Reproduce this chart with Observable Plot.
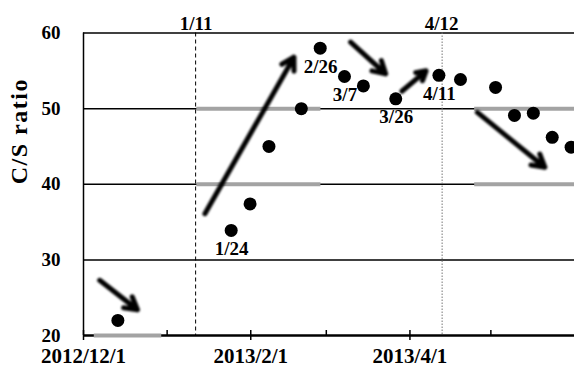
<!DOCTYPE html>
<html><head><meta charset="utf-8">
<script src="https://cdn.jsdelivr.net/npm/d3@7"></script>
<script src="https://cdn.jsdelivr.net/npm/@observablehq/plot@0.6"></script>
<style>html,body{margin:0;padding:0;background:#fff}#chart svg{display:block}</style>
</head><body><div id="chart"></div>
<script>
// ---- data ----
const pointDates = ["2012-12-13","2013-01-24","2013-01-31","2013-02-07","2013-02-19","2013-02-26","2013-03-07","2013-03-14","2013-03-26","2013-04-11","2013-04-19","2013-05-02","2013-05-09","2013-05-16","2013-05-23","2013-05-30"];
const pointValues = [22.0, 33.9, 37.4, 45.0, 50.0, 58.0, 54.25, 53.0, 51.3, 54.4, 53.85, 52.8, 49.1, 49.4, 46.2, 44.9];

const labelDates = ["2013-01-24","2013-02-26","2013-03-07","2013-03-26","2013-04-11"];
const labelValues = [33.9, 58.0, 54.25, 51.3, 54.4];
const labelTexts = ["1/24","2/26","3/7","3/26","4/11"];

const eventDates = ["2013-01-11","2013-04-12"];
const eventTexts = ["1/11","4/12"];

const majorTicks = ["2012-12-01","2013-02-01","2013-04-01"];
const majorTickLabels = ["2012/12/1","2013/2/1","2013/4/1"];
const minorTicks = ["2013-01-01","2013-03-01","2013-05-01"];
const xDomain = ["2012-12-01","2013-06-01"];

const yTicks = [20, 30, 40, 50, 60];
const gridValues = [30, 40, 50, 60];
const yTitle = "C/S ratio";

// grey range segments
const bandFrom  = ["2012-12-05","2013-01-12","2013-01-12","2013-04-25","2013-04-25"];
const bandTo    = ["2012-12-30","2013-02-27","2013-02-27","2013-06-01","2013-06-01"];
const bandValue = [20, 40, 50, 40, 50];

// trend arrows
const arrowFromDate = ["2012-12-07","2013-01-15","2013-03-10","2013-03-29","2013-04-26"];
const arrowFromValue = [27.3, 36.1, 58.8, 52.3, 49.5];
const arrowToDate = ["2012-12-21","2013-02-17","2013-03-23","2013-04-07","2013-05-21"];
const arrowToValue = [23.4, 56.8, 54.6, 55.0, 42.25];

// ---- build ----
const D = s => new Date(s);
const points = pointDates.map((d, i) => ({date: D(d), value: pointValues[i]}));
const labels = labelDates.map((d, i) => ({date: D(d), value: labelValues[i], text: labelTexts[i]}));
const events = eventDates.map((d, i) => ({date: D(d), text: eventTexts[i]}));
const bands = bandValue.map((v, i) => ({from: D(bandFrom[i]), to: D(bandTo[i]), value: v}));
const arrows = arrowFromDate.map((d, i) => ({x1: D(d), y1: arrowFromValue[i], x2: D(arrowToDate[i]), y2: arrowToValue[i]}));
const majors = majorTicks.map(D);
const minors = minorTicks.map(D);
const tickLabel = new Map(majors.map((d, i) => [+d, majorTickLabels[i]]));

const W = 574, H = 367, mT = 32.5, mB = 32, mL = 83;
const frameH = H - mT - mB;

const chart = Plot.plot({
  width: W, height: H,
  marginLeft: mL, marginRight: 0, marginTop: mT, marginBottom: mB,
  style: {fontFamily: "'Liberation Serif','Times New Roman',serif", fontSize: "19px", fontWeight: "bold", background: "#fff", color: "#000", overflow: "hidden"},
  x: {type: "utc", domain: xDomain.map(D)},
  y: {domain: [20, 60]},
  marks: [
    Plot.ruleY(gridValues, {stroke: "#000", strokeWidth: 1.5}),
    Plot.ruleX([D(xDomain[0])], {stroke: "#000", strokeWidth: 1.5}),
    Plot.ruleX(events.slice(0, 1), {x: "date", stroke: "#000", strokeWidth: 1, strokeDasharray: "4,3", dx: 1.5}),
    Plot.ruleX(events.slice(1), {x: "date", stroke: "#777", strokeWidth: 1, strokeDasharray: "1.5,1.5", dx: 2.5}),
    Plot.ruleY([20], {stroke: "#000", strokeWidth: 2.5}),
    Plot.ruleY(bands, {y: "value", x1: "from", x2: "to", stroke: "#a3a3a3", strokeWidth: 4}),
    Plot.tickX(majors, {x: d => d, stroke: "#000", strokeWidth: 1.5, insetTop: frameH - 5}),
    Plot.tickX(minors, {x: d => d, stroke: "#000", strokeWidth: 1.5, insetTop: frameH - 5}),
    Plot.axisX(majors, {tickSize: 5, tickPadding: 8, strokeWidth: 1.5, tickFormat: d => tickLabel.get(+d), fontSize: 21, label: null}),
    Plot.axisY(yTicks, {tickSize: 0, tickPadding: 23, tickFormat: d => String(d), fontSize: 19, label: null}),
    Plot.text([yTitle], {text: d => d, frameAnchor: "left", rotate: -90, dx: -64, fontSize: 24}),
    Plot.text(events, {x: "date", text: "text", frameAnchor: "top", lineAnchor: "bottom", dy: -3, dx: 2, fontSize: 19}),
    Plot.arrow(arrows, {x1: "x1", y1: "y1", x2: "x2", y2: "y2", stroke: "#000", strokeWidth: 5, headLength: 4.2, headAngle: 60}),
    Plot.dot(points, {x: "date", y: "value", r: 6.5, fill: "#000", dx: 2}),
    Plot.text(labels, {x: "date", y: "value", text: "text", dy: 18.5, dx: 2.5, fontSize: 19})
  ]
});
document.getElementById("chart").appendChild(chart);
chart.querySelectorAll('g[aria-label="arrow"]').forEach(g => g.style.filter = "blur(0.8px)");
chart.querySelectorAll('g[aria-label="rule"]').forEach(g => {
  if (g.getAttribute("stroke") === "#a3a3a3") g.style.filter = "blur(0.6px)";
});
chart.querySelectorAll('g[aria-label="text"] text').forEach(t => {
  if (t.textContent === yTitle) t.setAttribute("letter-spacing", "1.5");
});
</script>
</body></html>
